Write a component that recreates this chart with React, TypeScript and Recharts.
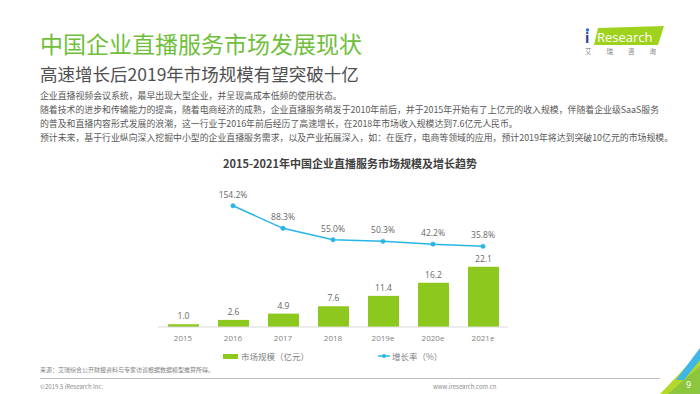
import React from "react";
import { Bar, ComposedChart, LabelList, Line, XAxis, YAxis } from "recharts";

const years = ["2015", "2016", "2017", "2018", "2019e", "2020e", "2021e"];
const marketSize = [1.0, 2.6, 4.9, 7.6, 11.4, 16.2, 22.1];
const growthRate: (number | null)[] = [null, 154.2, 88.3, 55.0, 50.3, 42.2, 35.8];

const barName = "市场规模（亿元）";
const lineName = "增长率（%）";

const bodyLines = [
  "企业直播视频会议系统，最早出现大型企业，并呈现高成本低频的使用状态。",
  "随着技术的进步和传输能力的提高，随着电商经济的成熟，企业直播服务萌发于2010年前后，并于2015年开始有了上亿元的收入规模，伴随着企业级SaaS服务",
  "的普及和直播内容形式发展的浪潮，这一行业于2016年前后经历了高速增长，在2018年市场收入规模达到7.6亿元人民币。",
  "预计未来，基于行业纵向深入挖掘中小型的企业直播服务需求，以及产业拓展深入，如：在医疗，电商等领域的应用，预计2019年将达到突破10亿元的市场规模。",
];

const data = years.map((year, i) => ({
  year,
  size: marketSize[i],
  rate: growthRate[i],
}));

const FONT = "'Noto Sans CJK SC', 'Open Sans', sans-serif";
const NUM_FONT = "'Open Sans', sans-serif";
const GREEN = "#8dc81f";
const BLUE = "#27b5e8";

// legend sits under the axis, drawn by hand (two items far apart like the slide)
function LegendBox() {
  return (
    <div style={{ position: "absolute", left: 0, top: 350, width: 700, height: 12, fontFamily: FONT, fontSize: 8.5, color: "#7f7f7f", lineHeight: "12px" }}>
      <div style={{ position: "absolute", left: 223, display: "flex", alignItems: "center" }}>
        <span style={{ width: 15, height: 5, background: GREEN, marginRight: 3 }} />
        <span>{barName}</span>
      </div>
      <div style={{ position: "absolute", left: 378, display: "flex", alignItems: "center" }}>
        <svg width={12} height={6} style={{ marginRight: 2 }}>
          <line x1={0} y1={3} x2={12} y2={3} stroke={BLUE} strokeWidth={1.5} />
          <circle cx={6} cy={3} r={2} fill={BLUE} />
        </svg>
        <span>{lineName}</span>
      </div>
    </div>
  );
}

export default function App() {
  return (
    <div style={{ position: "relative", width: 700, height: 394, background: "#fff", overflow: "hidden", fontFamily: FONT }}>
      <style>{`body{margin:0}`}</style>

      <div style={{ position: "absolute", left: 0, top: 0 }}>
        <ComposedChart width={700} height={394} data={data} margin={{ top: 185, right: 192, bottom: 47, left: 158 }}>
          <XAxis
            dataKey="year"
            interval={0}
            height={20}
            tickLine={false}
            axisLine={{ stroke: "#d9d9d9" }}
            tick={{ fontSize: 8, fill: "#7f7f7f", fontFamily: NUM_FONT }}
          />
          <YAxis yAxisId="bar" hide domain={[0, 52]} allowDataOverflow />
          <YAxis yAxisId="line" hide domain={[-199.4, 214.6]} allowDataOverflow />
          <Bar yAxisId="bar" dataKey="size" name={barName} fill={GREEN} barSize={31} isAnimationActive={false}>
            <LabelList
              dataKey="size"
              position="top"
              fill="#666666"
              fontSize={8.5}
              fontFamily={NUM_FONT}
              formatter={(v: any) => Number(v).toFixed(1)}
            />
          </Bar>
          <Line
            yAxisId="line"
            dataKey="rate"
            name={lineName}
            stroke={BLUE}
            strokeWidth={1.5}
            dot={{ r: 2.2, fill: BLUE, stroke: BLUE, strokeWidth: 0.5 }}
            isAnimationActive={false}
          >
            <LabelList
              dataKey="rate"
              position="top"
              offset={8}
              fill="#666666"
              fontSize={8.5}
              fontFamily={NUM_FONT}
              formatter={(v: any) => (v == null ? "" : `${Number(v).toFixed(1)}%`)}
            />
          </Line>
        </ComposedChart>
      </div>
      <LegendBox />

      <div style={{ position: "absolute", left: 40, top: 28, fontSize: 23, color: "#6fbf3b", lineHeight: "30px", whiteSpace: "nowrap" }}>
        中国企业直播服务市场发展现状
      </div>
      <div style={{ position: "absolute", left: 40, top: 62, fontSize: 17.5, color: "#505050", lineHeight: "24px", whiteSpace: "nowrap" }}>
        高速增长后2019年市场规模有望突破十亿
      </div>
      <div style={{ position: "absolute", left: 40, top: 89, fontSize: 8.9, color: "#595959", lineHeight: "14px" }}>
        {bodyLines.map((l, i) => (
          <div key={i} style={{ whiteSpace: "nowrap" }}>{l}</div>
        ))}
      </div>
      <div style={{ position: "absolute", left: 0, width: 700, top: 155, textAlign: "center", fontSize: 11, fontWeight: 700, color: "#404040", lineHeight: "16px" }}>
        2015-2021年中国企业直播服务市场规模及增长趋势
      </div>

      <div style={{ position: "absolute", left: 40, top: 365, fontSize: 6, color: "#7f7f7f", lineHeight: "9px", whiteSpace: "nowrap" }}>
        来源：艾瑞综合公开财报资料与专家访谈根据数据模型推算所得。
      </div>
      <div style={{ position: "absolute", left: 40, top: 378, width: 620, height: 1, background: "#bfbfbf" }} />
      <div style={{ position: "absolute", left: 40, top: 382, fontSize: 6, color: "#8c8c8c", lineHeight: "9px", whiteSpace: "nowrap" }}>
        ©2019.5 iResearch Inc.
      </div>
      <div style={{ position: "absolute", left: 433, top: 382, fontSize: 6, color: "#8c8c8c", lineHeight: "9px", whiteSpace: "nowrap" }}>
        www.iresearch.com.cn
      </div>

      <svg style={{ position: "absolute", left: 640, top: 330 }} width={60} height={64}>
        <polygon points="20,64 60,64 60,22" fill="#b5d92a" />
        <polygon points="28,64 60,64 60,36" fill="#8cc63f" />
        <polygon points="36,50 60,18 60,30 44,50" fill="#3fb6e8" />
        <text x={46} y={58} fontSize={9} fill="#fff" fontFamily={NUM_FONT}>9</text>
      </svg>

      <svg style={{ position: "absolute", left: 580, top: 24 }} width={92} height={32}>
        <polygon points="18,4 84,2 78,21 14,21" fill="#9fd21c" />
        <text x={5} y={19} fontSize={14} fill="#1a3d8f" fontFamily={NUM_FONT} fontWeight={700}>i</text>
        <circle cx={7.5} cy={6} r={1.7} fill="#2a6fd6" />
        <text x={17} y={17.5} fontSize={13} fill="#fff" fontFamily={NUM_FONT}>Research</text>
        <text x={5} y={30} fontSize={6.5} fill="#7f7f7f" letterSpacing={15}>艾瑞咨询</text>
      </svg>
    </div>
  );
}
